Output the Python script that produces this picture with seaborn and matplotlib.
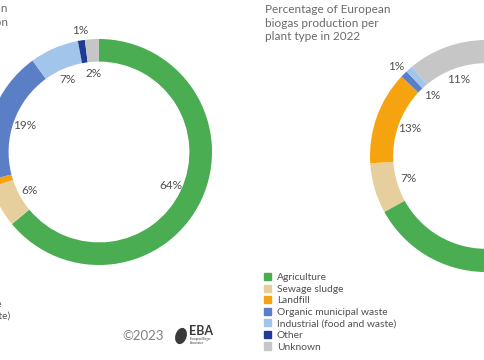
import numpy as np
import matplotlib.pyplot as plt
import matplotlib.patches as patches
import seaborn as sns

sns.set_theme(style="white")
plt.rcParams['font.family'] = ['Lato', 'DejaVu Sans']

# data
plant_types = ["Agriculture", "Sewage sludge", "Landfill", "Organic municipal waste",
               "Industrial (food and waste)", "Other", "Unknown"]
colors = ["#4aad52", "#e6cf9d", "#f5a30f", "#5b7fc7", "#a2c5ec", "#1f3b94", "#c6c6c6"]
left_share = [64, 6, 1, 19, 7, 1, 2]
right_share = [67, 7, 13, 1, 1, 0, 11]
left_outside = [False, False, True, False, False, True, False]
right_outside = [False, False, False, True, False, False, False]

W, H = 485, 360
fig = plt.figure(figsize=(W / 100, H / 100), dpi=100)
text_col = "#505050"


def donut(cx, cy, r, shares, outside):
    # axes placed in pixels so the ring sits where it should (partly off canvas)
    half = 1.2 * r
    ax = fig.add_axes([(cx - half) / W, (H - cy - half) / H, 2 * half / W, 2 * half / H])
    wedges, _ = ax.pie(shares, colors=colors, startangle=90, counterclock=False,
                       radius=1, wedgeprops=dict(width=0.2, linewidth=0))
    ax.set_xlim(-1.2, 1.2)
    ax.set_ylim(-1.2, 1.2)
    ax.set_aspect("equal")
    ax.axis("off")
    for w, s, out in zip(wedges, shares, outside):
        if s <= 0:
            continue
        mid = np.deg2rad((w.theta1 + w.theta2) / 2)
        d = 1.09 if out else 0.7
        ax.text(d * np.cos(mid), d * np.sin(mid), f"{s}%", ha="center", va="center",
                fontsize=8.5, color=text_col, clip_on=False)
    return ax


donut(99, 152, 113, left_share, left_outside)
donut(486, 156, 116, right_share, right_outside)

# titles
fig.text(8 / W, 1 - 3 / H, "Percentage of European\nbiomethane production\n ",
         ha="right", va="top", fontsize=8.5, color="#6a6a6a", linespacing=1.3)
fig.text(265 / W, 1 - 4 / H, "Percentage of European\nbiogas production per\nplant type in 2022",
         ha="left", va="top", fontsize=8.5, color="#6a6a6a", linespacing=1.3)

# legends
handles = [patches.Patch(color=c) for c in colors]
for x0, y0 in [(-122, 265), (264, 273)]:
    fig.legend(handles, plant_types, loc="upper left",
               bbox_to_anchor=(x0 / W, 1 - y0 / H), frameon=False, fontsize=7.4,
               handlelength=0.7, handleheight=0.7, handletextpad=0.55,
               labelspacing=0.23, borderpad=0, borderaxespad=0, labelcolor=text_col)

# footer
fig.text(122 / W, 1 - 336 / H, "©2023", ha="left", va="center", fontsize=9.5, color="#808080")
leaf = patches.Ellipse((181 / W, 1 - 336 / H), 10 / W, 15 / H, angle=-10,
                       transform=fig.transFigure, color="#3a3a3a")
fig.patches.append(leaf)
fig.text(189 / W, 1 - 331 / H, "EBA", ha="left", va="center", fontsize=9,
         color="#3a3a3a", fontweight="bold")
fig.text(190 / W, 1 - 341 / H, "European Biogas\nAssociation", ha="left", va="center",
         fontsize=2, color="#3a3a3a", linespacing=1.0)

fig.savefig("out.png", dpi=100)
